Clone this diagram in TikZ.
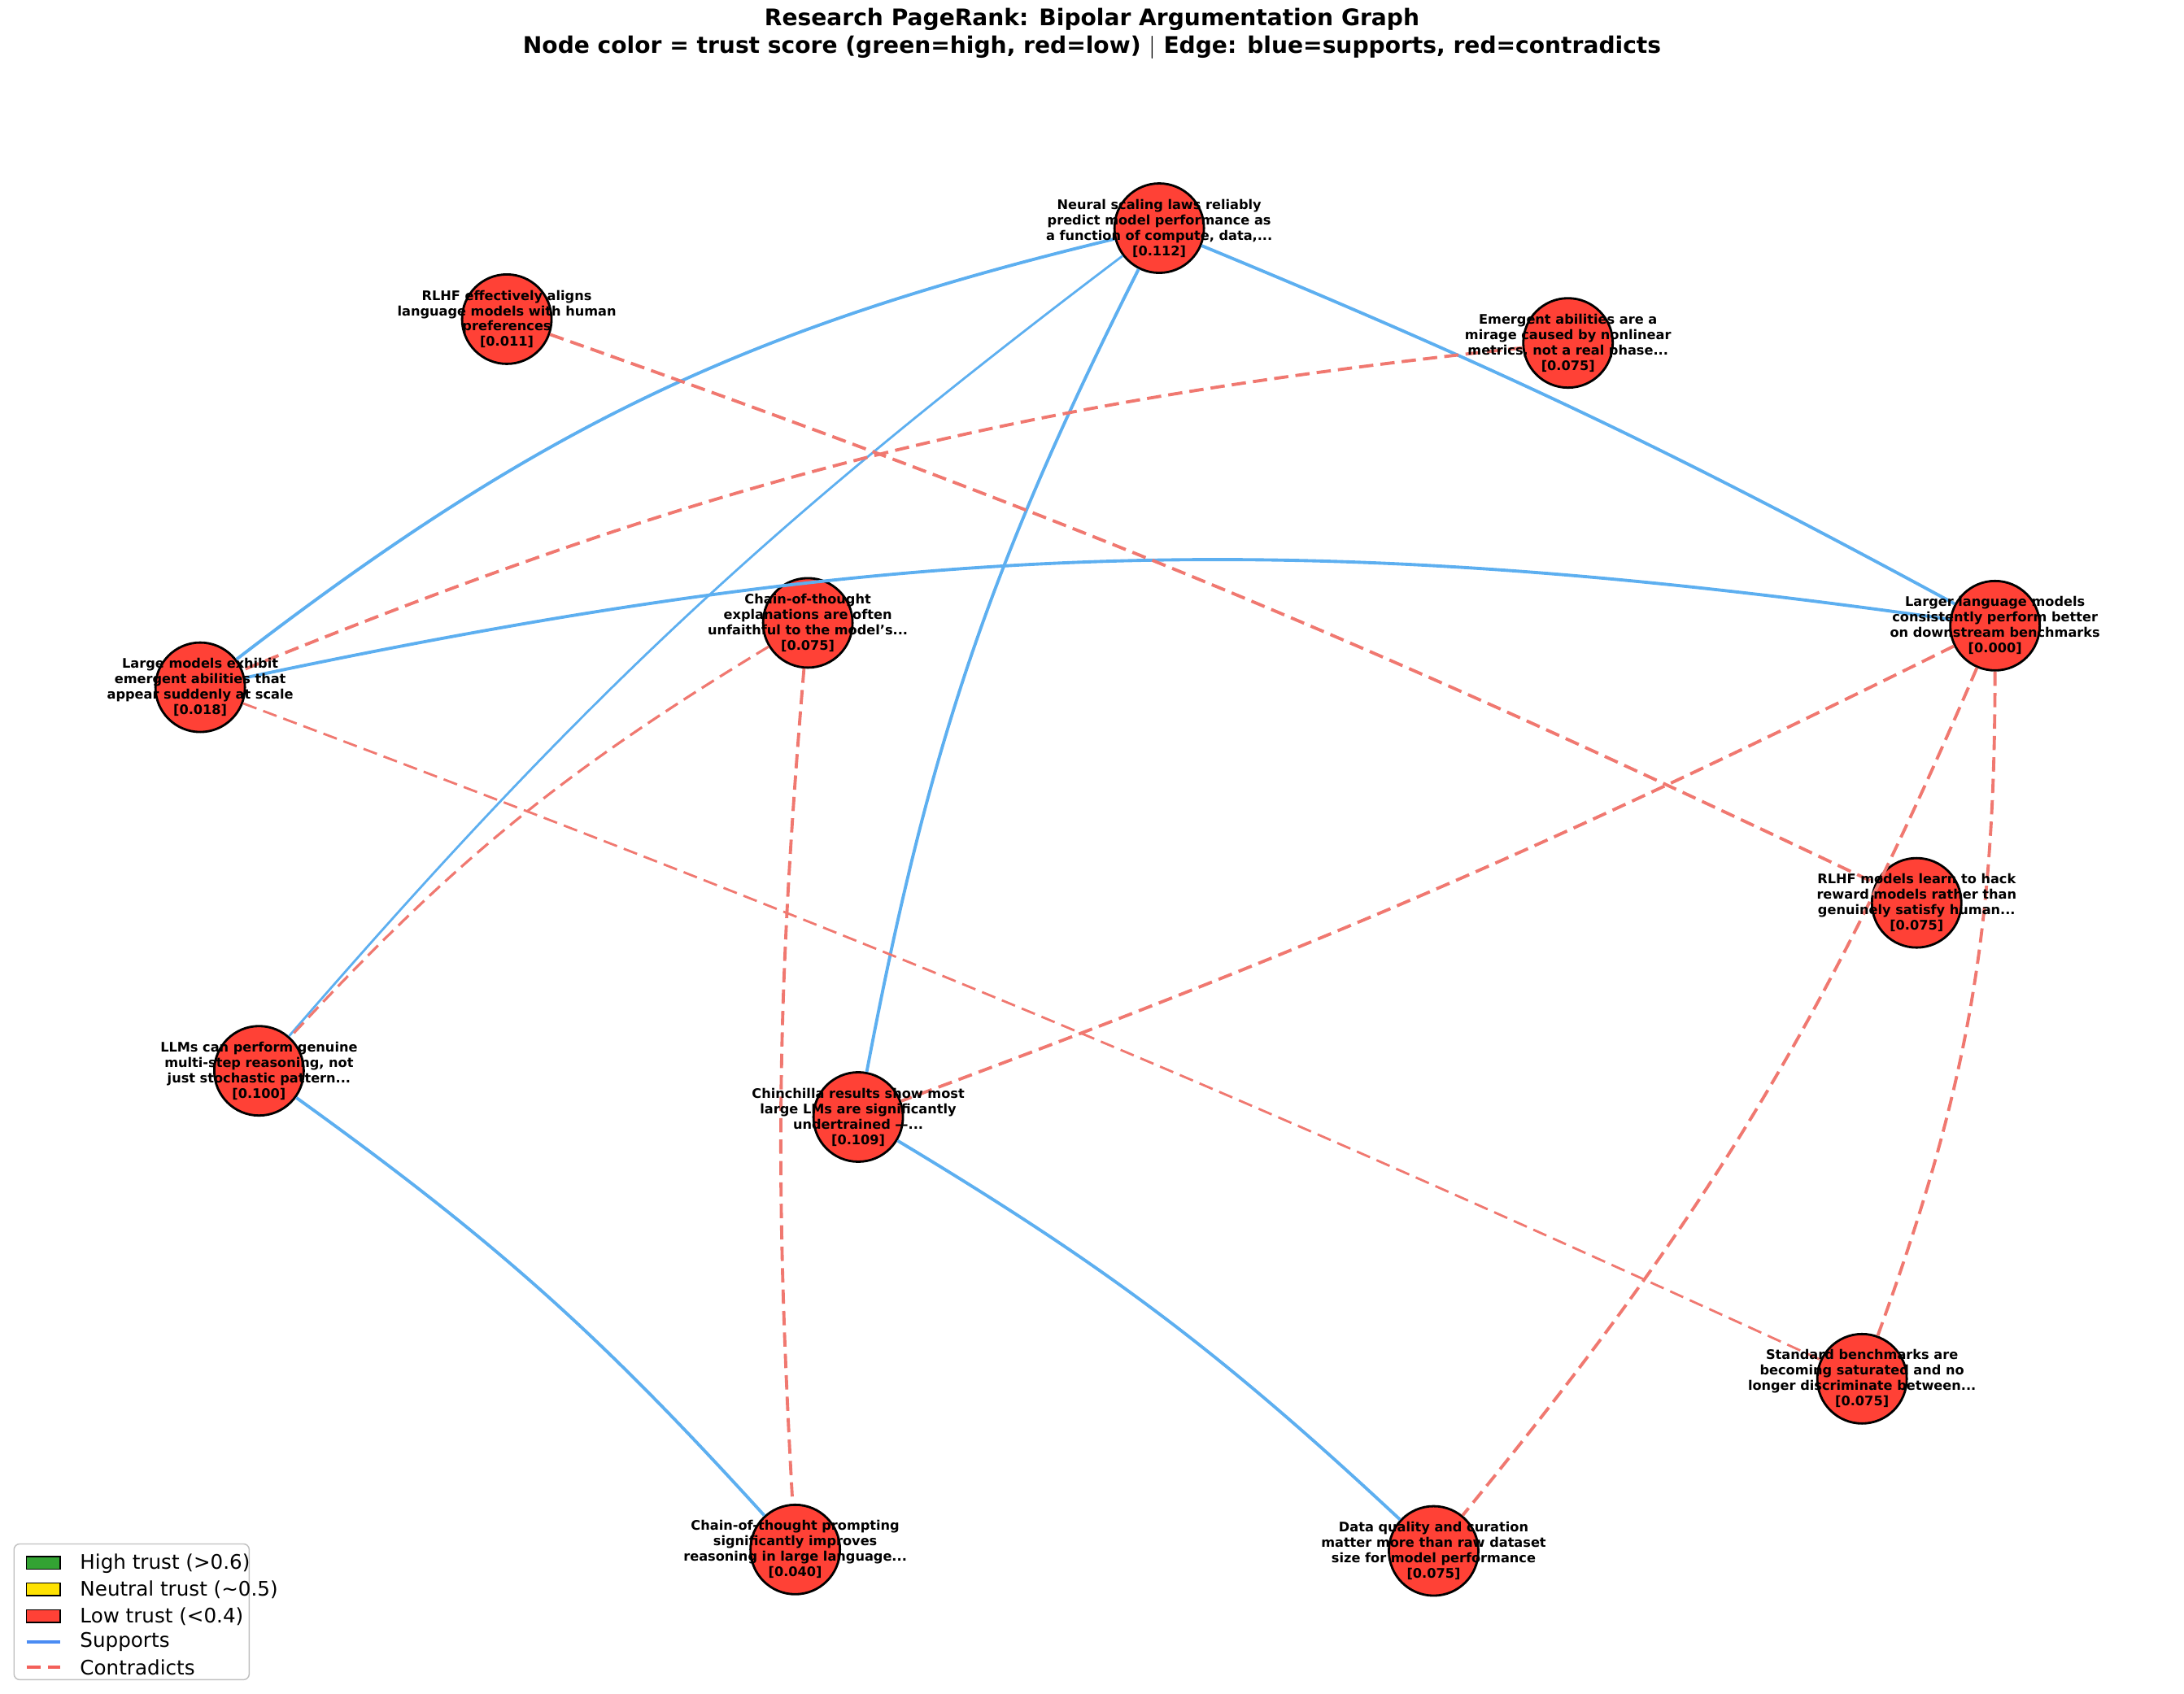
\documentclass[tikz,border=0pt]{standalone}
\usepackage{fontspec}
\setmainfont{DejaVu Sans}
\usetikzlibrary{positioning}
\definecolor{nodered}{HTML}{FF4136}
\definecolor{supblue}{HTML}{5DAFF0}
\definecolor{conred}{HTML}{F07870}
\tikzset{
  claim/.style={circle, draw=black, thick, fill=nodered, minimum size=1.1cm, inner sep=0pt},
  lbl/.style={font=\bfseries\fontsize{4.6}{5.4}\selectfont, align=center},
  sup/.style={supblue, line width=1.1pt},
  con/.style={conred, line width=1.1pt, dash pattern=on 5pt off 2.5pt},
}
\begin{document}
\begin{tikzpicture}[x=0.01721cm, y=-0.01721cm]
\useasboundingbox (0,0) rectangle (1560,1210);
%
\node[font=\bfseries\fontsize{8}{9.5}\selectfont, align=center] (title) at (780,24)
  {Research PageRank: Bipolar Argumentation Graph\\Node color = trust score (green=high, red=low) $|$ Edge: blue=supports, red=contradicts};
%
\node[claim] (scal) at (828,163) {};
\node[claim] (rlhfa) at (362,228) {};
\node[claim] (mirage) at (1120,245) {};
\node[claim] (cotu) at (577,445) {};
\node[claim] (emerg) at (143,491) {};
\node[claim] (larger) at (1425,447) {};
\node[claim] (hack) at (1369,645) {};
\node[claim] (reason) at (185,765) {};
\node[claim] (chin) at (613,798) {};
\node[claim] (bench) at (1330,985) {};
\node[claim] (cotp) at (568,1107) {};
\node[claim] (data) at (1024,1108) {};
%
\draw[sup] (scal) to[bend right=12] (emerg);
\draw[sup, line width=0.8pt] (scal) to[bend right=6] (reason);
\draw[sup] (scal) to[bend right=8] (chin);
\draw[sup] (scal) to[bend left=3] (larger);
\draw[sup] (larger) to[bend right=10] (emerg);
\draw[sup] (reason) to[bend left=6] (cotp);
\draw[sup] (chin) to[bend left=6] (data);
%
\draw[con] (rlhfa) to[bend left=3] (hack);
\draw[con] (mirage) to[bend right=8] (emerg);
\draw[con, line width=0.9pt] (cotu) to[bend right=8] (reason);
\draw[con] (cotu) to[bend right=4] (cotp);
\draw[con, line width=0.8pt] (emerg) to[bend left=2] (bench);
\draw[con] (larger) to[bend left=3] (chin);
\draw[con] (larger) to[bend left=8] (data);
\draw[con] (larger) to[bend left=10] (bench);
%
\node[lbl] at (scal) {Neural scaling laws reliably\\predict model performance as\\a function of compute, data,...\\{}[0.112]};
\node[lbl] at (rlhfa) {RLHF effectively aligns\\language models with human\\preferences\\{}[0.011]};
\node[lbl] at (mirage) {Emergent abilities are a\\mirage caused by nonlinear\\metrics, not a real phase...\\{}[0.075]};
\node[lbl] at (cotu) {Chain-of-thought\\explanations are often\\unfaithful to the model's...\\{}[0.075]};
\node[lbl] at (emerg) {Large models exhibit\\emergent abilities that\\appear suddenly at scale\\{}[0.018]};
\node[lbl] at (larger) {Larger language models\\consistently perform better\\on downstream benchmarks\\{}[0.000]};
\node[lbl] at (hack) {RLHF models learn to hack\\reward models rather than\\genuinely satisfy human...\\{}[0.075]};
\node[lbl] at (reason) {LLMs can perform genuine\\multi-step reasoning, not\\just stochastic pattern...\\{}[0.100]};
\node[lbl] at (chin) {Chinchilla results show most\\large LMs are significantly\\undertrained ---...\\{}[0.109]};
\node[lbl] at (bench) {Standard benchmarks are\\becoming saturated and no\\longer discriminate between...\\{}[0.075]};
\node[lbl] at (cotp) {Chain-of-thought prompting\\significantly improves\\reasoning in large language...\\{}[0.040]};
\node[lbl] at (data) {Data quality and curation\\matter more than raw dataset\\size for model performance\\{}[0.075]};
%
\draw[black!25, rounded corners=2pt, fill=white] (10,1103) rectangle (178,1200);
\foreach \y/\c/\t in {1117/green!55!black!80/High trust (>0.6),1136/yellow!85!orange/Neutral trust (\textasciitilde0.5),1155/nodered/Low trust (<0.4)} {
  \draw[fill=\c, draw=black, thin] (19,\y-5) rectangle (43,\y+4);
  \node[anchor=west, font=\fontsize{7}{8}\selectfont] at (50,\y) {\t};
}
\draw[sup, supblue!80!blue] (19,1173) -- (43,1173);
\node[anchor=west, font=\fontsize{7}{8}\selectfont] at (50,1173) {Supports};
\draw[con, conred!80!red] (19,1191) -- (43,1191);
\node[anchor=west, font=\fontsize{7}{8}\selectfont] at (50,1191) {Contradicts};
\end{tikzpicture}
\end{document}
